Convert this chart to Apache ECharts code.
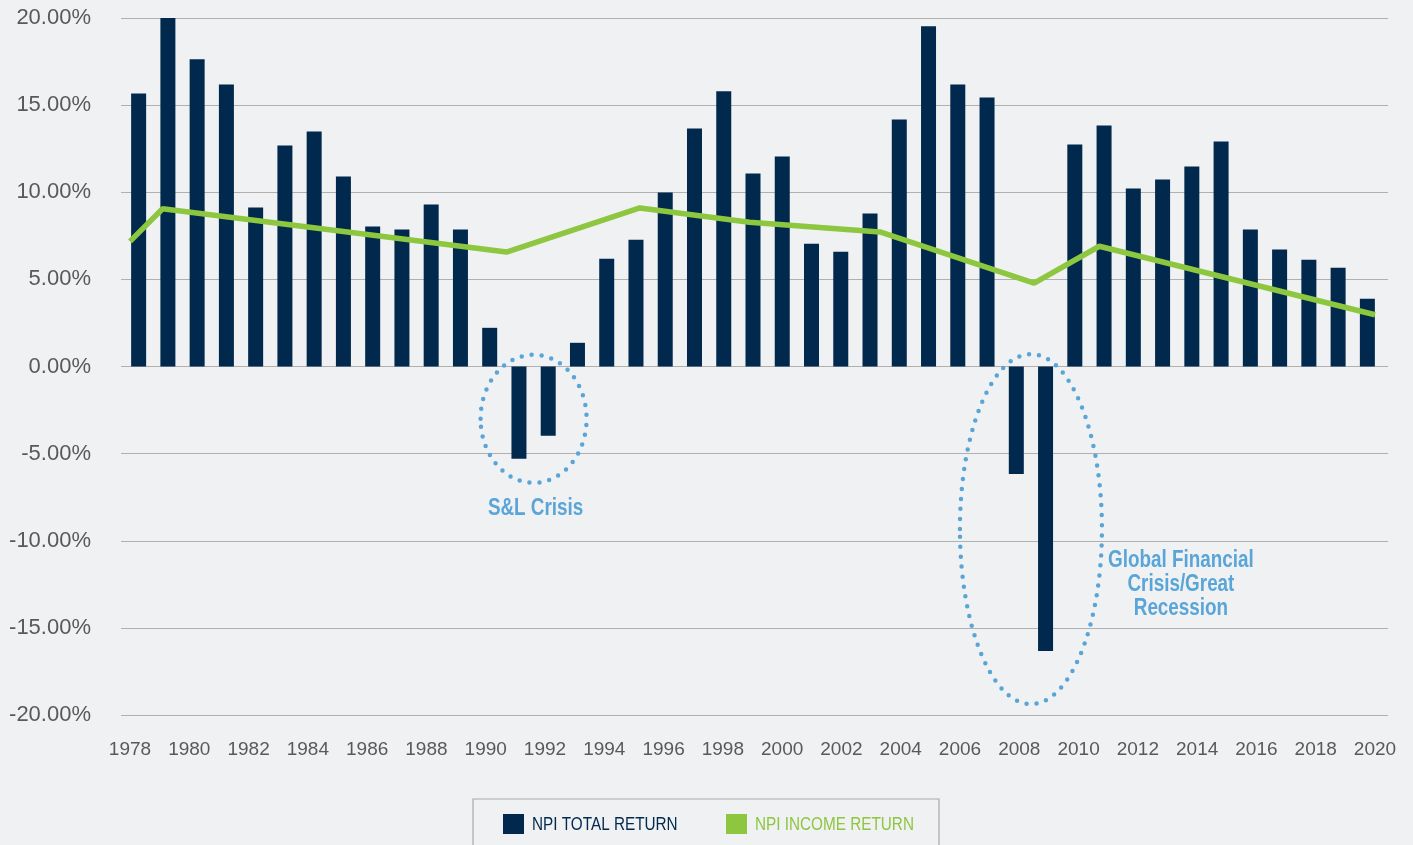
<!DOCTYPE html>
<html><head><meta charset="utf-8">
<script src="https://cdn.jsdelivr.net/npm/echarts@6/dist/echarts.min.js"></script>
<style>html,body{margin:0;padding:0;background:#f0f1f3}#c{width:1413px;height:845px}</style>
</head><body><div id="c"></div>
<script>
// ---- data ----
const years = ['1978','1979','1980','1981','1982','1983','1984','1985','1986','1987','1988','1989',
  '1990','1991','1992','1993','1994','1995','1996','1997','1998','1999','2000','2001','2002','2003',
  '2004','2005','2006','2007','2008','2009','2010','2011','2012','2013','2014','2015','2016','2017',
  '2018','2019','2020'];
const totalReturn = [15.67, 20.0, 17.63, 16.19, 9.12, 12.68, 13.49, 10.90, 8.03, 7.86, 9.29, 7.86,
  2.22, -5.29, -3.98, 1.36, 6.19, 7.28, 9.98, 13.66, 15.79, 11.07, 12.05, 7.05, 6.59, 8.78,
  14.18, 19.52, 16.19, 15.44, -6.17, -16.32, 12.74, 13.83, 10.21, 10.73, 11.48, 12.91, 7.86, 6.71,
  6.13, 5.67, 3.89];
// income-return line, read at its drawn vertices (year position, %)
const incomeYears  = [1978, 1979.1, 1990.7, 1995.2, 1998.9, 2003.3, 2008.5, 2010.7, 2020];
const incomeReturn = [7.18, 9.05, 6.57, 9.10, 8.28, 7.72, 4.79, 6.90, 2.97];
const seriesNames = ['NPI TOTAL RETURN', 'NPI INCOME RETURN'];
const annotations = ['S&L Crisis', 'Global Financial\nCrisis/Great\nRecession'];
const yMin = -20, yMax = 20, yStep = 5;
const xLabelStep = 2;

const NAVY = '#00294d', GREEN = '#8dc63f', BLUE = '#5aa5d8';
const chart = echarts.init(document.getElementById('c'));
const G = {top: 18, bottom: 130};
chart.setOption({
  backgroundColor: '#f0f1f3',
  animation: false,
  grid: [
    {left: 121, right: 25, top: G.top, bottom: G.bottom},
    {left: 124, right: 31, top: G.top, bottom: G.bottom},
    {left: 130, right: 38, top: G.top, bottom: G.bottom}
  ],
  xAxis: [
    {gridIndex: 0, type: 'value', min: 0, max: 1, show: false},
    {gridIndex: 1, type: 'category', data: years, show: false},
    {gridIndex: 2, type: 'value', min: 1978, max: 2020, interval: xLabelStep,
     axisLine: {show: false}, axisTick: {show: false}, splitLine: {show: false},
     axisLabel: {margin: 25, color: '#595959', fontSize: 19, fontFamily: 'Liberation Sans',
       formatter: v => String(v)}}
  ],
  yAxis: [
    {gridIndex: 0, type: 'value', min: yMin, max: yMax, interval: yStep,
     axisLine: {show: false}, axisTick: {show: false},
     splitLine: {lineStyle: {color: '#b0b0b0', width: 1.2}},
     axisLabel: {margin: 30, color: '#595959', fontSize: 22, fontFamily: 'Liberation Sans',
       formatter: v => v.toFixed(2) + '%'}},
    {gridIndex: 1, type: 'value', min: yMin, max: yMax, interval: yStep, show: false, splitLine: {show: false}},
    {gridIndex: 2, type: 'value', min: yMin, max: yMax, interval: yStep, show: false, splitLine: {show: false}}
  ],
  legend: {show: false, data: seriesNames},
  series: [
    {name: seriesNames[0], type: 'bar', xAxisIndex: 1, yAxisIndex: 1, data: totalReturn,
     barWidth: 15, itemStyle: {color: NAVY}},
    {name: seriesNames[1], type: 'line', xAxisIndex: 2, yAxisIndex: 2,
     data: incomeYears.map((y, i) => [y, incomeReturn[i]]),
     symbol: 'none', lineStyle: {color: GREEN, width: 5.5}, itemStyle: {color: GREEN}}
  ]
});

function px(idx, v) { return chart.convertToPixel({gridIndex: 1}, [idx, v]); }
const sl = [(px(13, 0)[0] + px(14, 0)[0]) / 2, px(13, -3.0)[1]];
const gfc = [(px(30, 0)[0] + px(31, 0)[0]) / 2, px(30, -9.33)[1]];
const dot = {fill: 'none', stroke: BLUE, lineWidth: 4.5, lineDash: [0, 10], lineCap: 'round'};
const aFont = 'bold 23px "Liberation Sans"';
const lFont = '18px "Liberation Sans"';
const narrow = 0.82, legendNarrow = 0.85;
// legend (drawn as a boxed key with condensed text)
const LG = {x: 473, y: 799, w: 466, h: 60};
const legendItems = [
  {name: seriesNames[0], color: NAVY, ix: 503},
  {name: seriesNames[1], color: GREEN, ix: 726}
];
const legendGraphics = [
  {type: 'rect', shape: {x: LG.x, y: LG.y, width: LG.w, height: LG.h},
   style: {fill: 'none', stroke: '#aaaaaa', lineWidth: 1.2}, silent: true}
];
legendItems.forEach(it => {
  legendGraphics.push({type: 'rect', shape: {x: it.ix, y: 814, width: 21, height: 20},
    style: {fill: it.color}, silent: true});
  legendGraphics.push({type: 'text', x: it.ix + 29, y: 825, scaleX: legendNarrow,
    style: {text: it.name, fill: it.color, font: lFont, align: 'left', verticalAlign: 'middle'}, silent: true});
});
chart.setOption({
  graphic: [
    {type: 'ellipse', shape: {cx: sl[0], cy: sl[1], rx: 53, ry: 64}, style: dot, silent: true},
    {type: 'ellipse', shape: {cx: gfc[0], cy: gfc[1], rx: 71, ry: 175}, style: dot, silent: true},
    {type: 'text', x: sl[0] + 2, y: px(13, -8.15)[1], scaleX: narrow,
     style: {text: annotations[0], fill: BLUE, font: aFont, align: 'center', verticalAlign: 'middle'}},
    {type: 'text', x: gfc[0] + 150, y: px(30, -12.5)[1], scaleX: narrow,
     style: {text: annotations[1], fill: BLUE, font: aFont,
       lineHeight: 24, align: 'center', verticalAlign: 'middle'}}
  ].concat(legendGraphics)
});
</script></body></html>
